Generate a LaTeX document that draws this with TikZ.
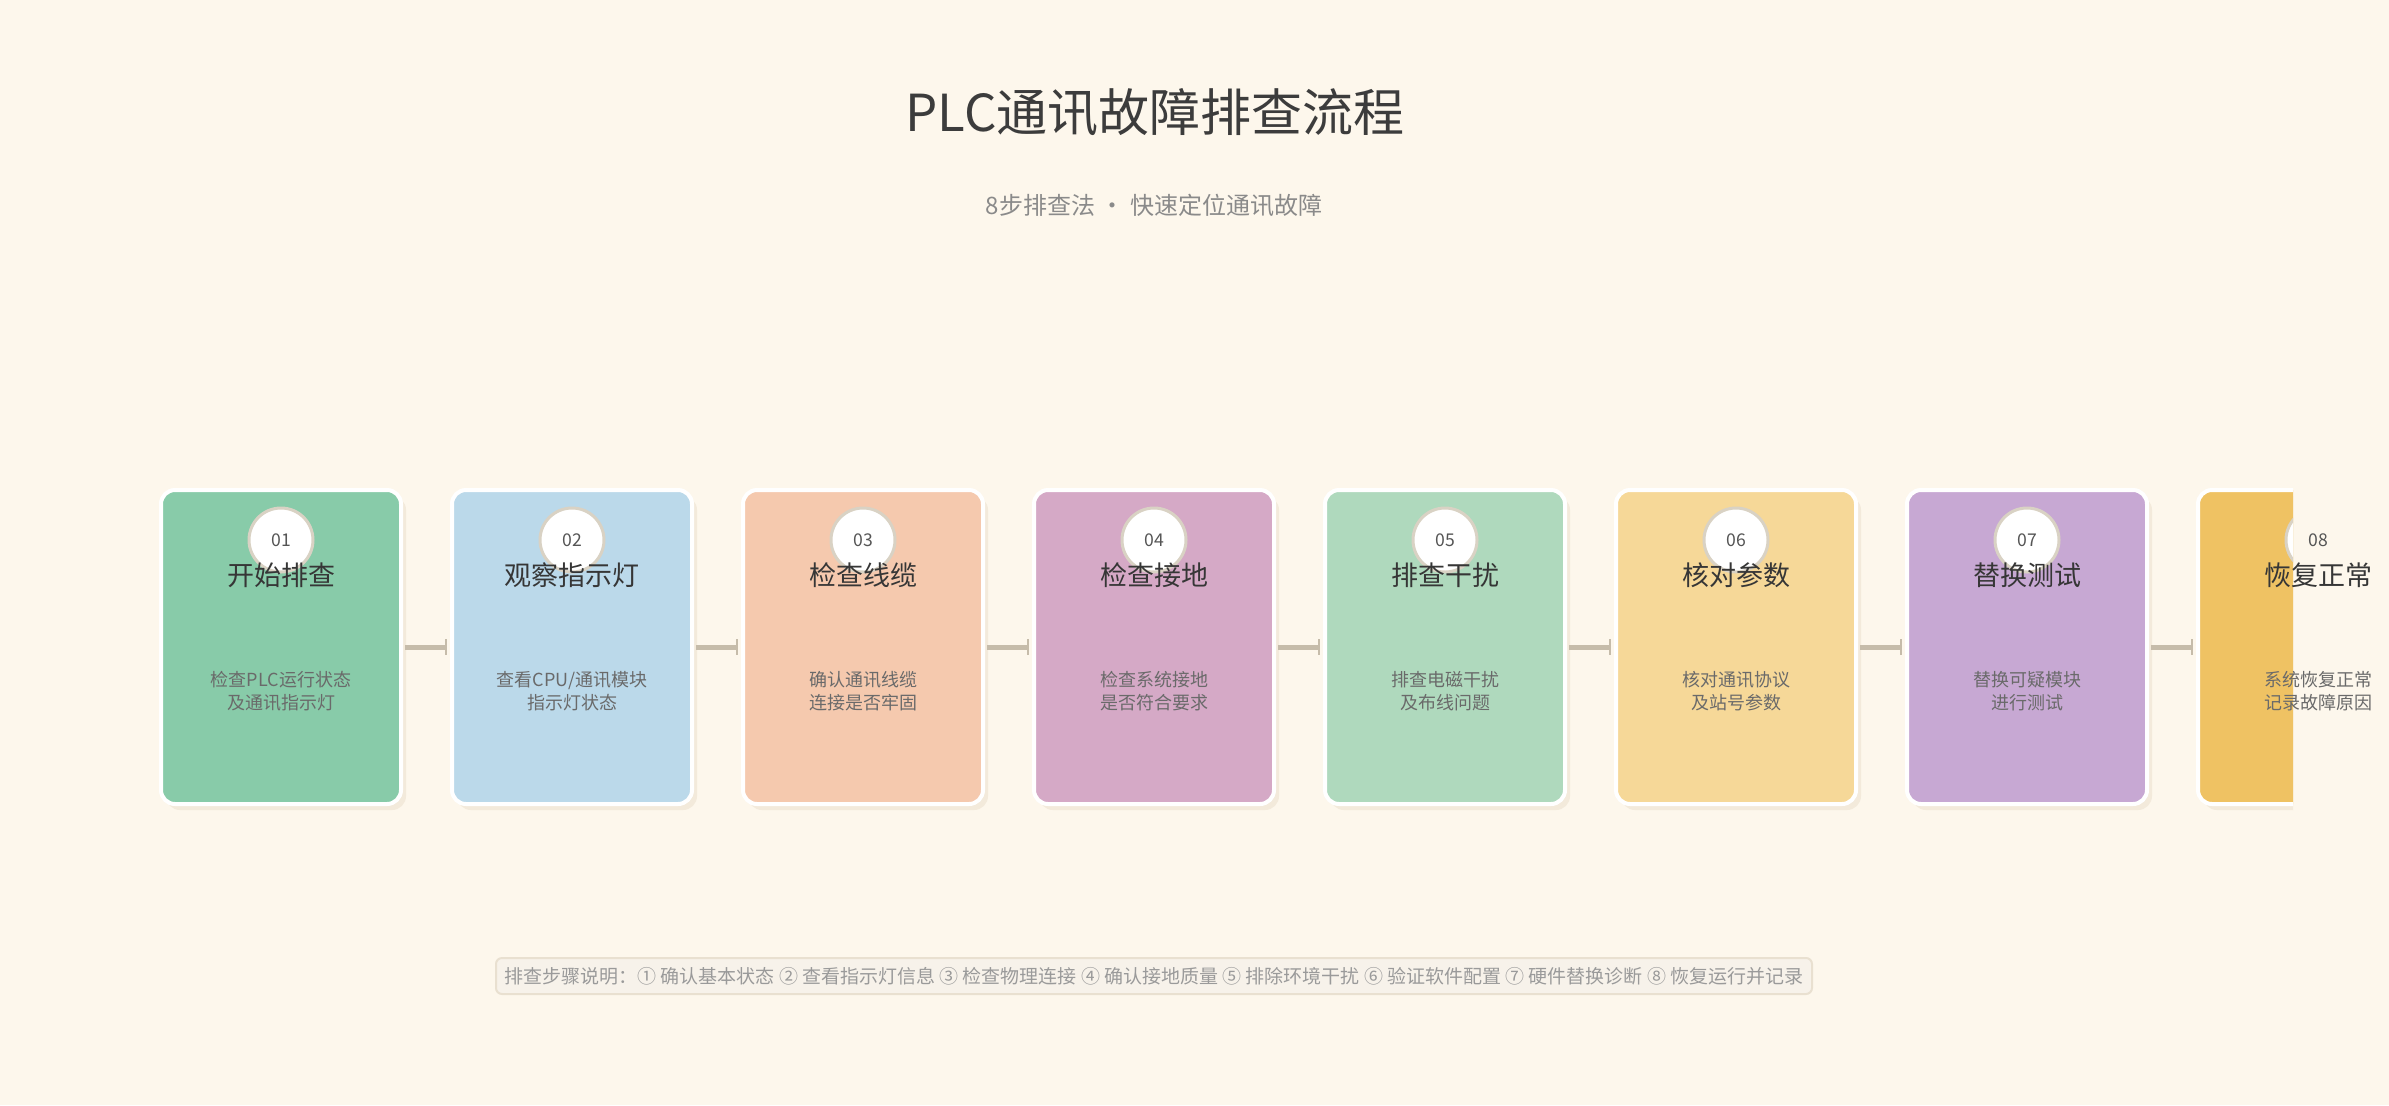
\documentclass[tikz,border=0pt]{standalone}
\usepackage{fontspec}
\setmainfont{Noto Sans CJK SC}
\usetikzlibrary{positioning, arrows.meta, shadows, calc}
\definecolor{page_bg}{HTML}{FDF7EC}
\definecolor{card_shadow}{HTML}{F3EADB}
\definecolor{card_a}{HTML}{88CBA9}
\definecolor{card_b}{HTML}{BBD9EA}
\definecolor{card_c}{HTML}{F5C9AE}
\definecolor{card_d}{HTML}{D5A9C6}
\definecolor{card_e}{HTML}{AFD9BD}
\definecolor{card_f}{HTML}{F6D898}
\definecolor{card_g}{HTML}{C7A8D3}
\definecolor{card_h}{HTML}{EFC263}
\definecolor{circ_rim}{HTML}{D9D2C4}
\definecolor{link_col}{HTML}{C6BCAA}
\definecolor{head_text}{HTML}{3C3C3C}
\definecolor{sub_text}{HTML}{8A8A8A}
\definecolor{title_text}{HTML}{363636}
\definecolor{desc_text}{HTML}{6A6A6A}
\definecolor{num_text}{HTML}{555555}
\definecolor{legend_fill}{HTML}{F7F2EA}
\definecolor{legend_rim}{HTML}{E9E0D0}
\definecolor{legend_text}{HTML}{9A9A9A}
\tikzset{
    step_card/.style={rectangle, rounded corners=7pt, minimum width=120pt, minimum height=157pt, draw=white, line width=2pt, drop shadow={shadow xshift=2.5pt, shadow yshift=-3pt, fill=card_shadow, opacity=1}},
    num_circ/.style={circle, minimum size=32pt, inner sep=0pt, fill=white, draw=circ_rim, line width=1.5pt, text=num_text, font=\fontsize{8.8}{10}\selectfont},
    num_label/.style={inner sep=0pt, text=num_text, font=\fontsize{8.8}{10}\selectfont},
    card_title/.style={inner sep=0pt, text=title_text, font=\fontsize{13.5}{16}\selectfont},
    card_text/.style={inner sep=0pt, align=center, text=desc_text, font=\fontsize{9}{11.5}\selectfont},
    link_arrow/.style={draw=link_col, line width=2.5pt, -{Bar[width=8pt, line width=1.2pt]}, shorten <=1pt, shorten >=1.5pt},
    legend_box/.style={rectangle, rounded corners=3pt, minimum width=658pt, minimum height=18pt, fill=legend_fill, draw=legend_rim, line width=1pt, text=legend_text, font=\fontsize{9.5}{11}\selectfont},
}

\begin{document}
\begin{tikzpicture}[x=0.5pt, y=-0.5pt, node distance=23.5pt]
      \fill [page_bg] (0,0) rectangle (2389,1105);

      \node (head) [text=head_text, font=\fontsize{25.5}{30}\selectfont] at (1155,112) {PLC通讯故障排查流程};
      \node (sub) [text=sub_text, font=\fontsize{12}{14}\selectfont] at (1154,205) {8步排查法 · 快速定位通讯故障};

      \coordinate (num_row) at (0,540);
      \coordinate (title_row) at (0,575);
      \coordinate (text_row) at (0,691);

      \node (c_1) [step_card, fill=card_a] at (281,647) {};
      \node (c_2) [step_card, fill=card_b, right = of c_1] {};
      \node (c_3) [step_card, fill=card_c, right = of c_2] {};
      \node (c_4) [step_card, fill=card_d, right = of c_3] {};
      \node (c_5) [step_card, fill=card_e, right = of c_4] {};
      \node (c_6) [step_card, fill=card_f, right = of c_5] {};
      \node (c_7) [step_card, fill=card_g, right = of c_6] {};
      \begin{scope}
        \clip (0,0) rectangle (2293,1105);
        \node (c_8) [step_card, fill=card_h, right = of c_7] {};
        \node (n_8) at (c_8 |- num_row) [num_circ] {};
      \end{scope}

      \node (n_1) at (c_1 |- num_row) [num_circ] {01};
      \node (n_2) at (c_2 |- num_row) [num_circ] {02};
      \node (n_3) at (c_3 |- num_row) [num_circ] {03};
      \node (n_4) at (c_4 |- num_row) [num_circ] {04};
      \node (n_5) at (c_5 |- num_row) [num_circ] {05};
      \node (n_6) at (c_6 |- num_row) [num_circ] {06};
      \node (n_7) at (c_7 |- num_row) [num_circ] {07};
      \node (n_8_label) at (n_8) [num_label] {08};

      \node (t_1) at (c_1 |- title_row) [card_title] {开始排查};
      \node (t_2) at (c_2 |- title_row) [card_title] {观察指示灯};
      \node (t_3) at (c_3 |- title_row) [card_title] {检查线缆};
      \node (t_4) at (c_4 |- title_row) [card_title] {检查接地};
      \node (t_5) at (c_5 |- title_row) [card_title] {排查干扰};
      \node (t_6) at (c_6 |- title_row) [card_title] {核对参数};
      \node (t_7) at (c_7 |- title_row) [card_title] {替换测试};
      \node (t_8) at (c_8 |- title_row) [card_title] {恢复正常};

      \node (d_1) at (c_1 |- text_row) [card_text] {检查PLC运行状态\\及通讯指示灯};
      \node (d_2) at (c_2 |- text_row) [card_text] {查看CPU/通讯模块\\指示灯状态};
      \node (d_3) at (c_3 |- text_row) [card_text] {确认通讯线缆\\连接是否牢固};
      \node (d_4) at (c_4 |- text_row) [card_text] {检查系统接地\\是否符合要求};
      \node (d_5) at (c_5 |- text_row) [card_text] {排查电磁干扰\\及布线问题};
      \node (d_6) at (c_6 |- text_row) [card_text] {核对通讯协议\\及站号参数};
      \node (d_7) at (c_7 |- text_row) [card_text] {替换可疑模块\\进行测试};
      \node (d_8) at (c_8 |- text_row) [card_text] {系统恢复正常\\记录故障原因};

      \draw [link_arrow] (c_1) -- (c_2);
      \draw [link_arrow] (c_2) -- (c_3);
      \draw [link_arrow] (c_3) -- (c_4);
      \draw [link_arrow] (c_4) -- (c_5);
      \draw [link_arrow] (c_5) -- (c_6);
      \draw [link_arrow] (c_6) -- (c_7);
      \draw [link_arrow] (c_7) -- (c_8);

      \node (legend) [legend_box] at (1154,976) {排查步骤说明：① 确认基本状态 ② 查看指示灯信息 ③ 检查物理连接 ④ 确认接地质量 ⑤ 排除环境干扰 ⑥ 验证软件配置 ⑦ 硬件替换诊断 ⑧ 恢复运行并记录};
   \end{tikzpicture}
\end{document}
